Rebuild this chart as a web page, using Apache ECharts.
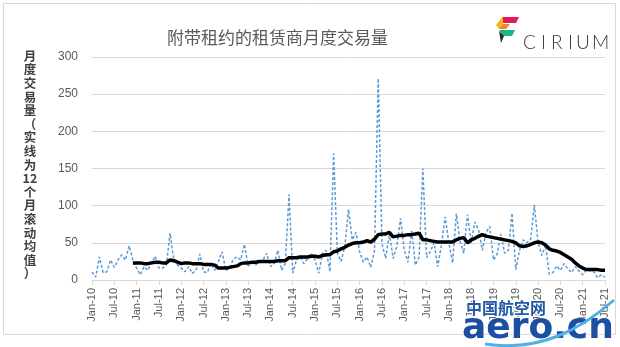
<!DOCTYPE html>
<html>
<head>
<meta charset="utf-8">
<script src="https://cdn.jsdelivr.net/npm/echarts@6/dist/echarts.min.js"></script>
<style>html,body{margin:0;padding:0;background:#fff;}#c{width:620px;height:347px;}</style>
</head>
<body>
<div id="c"></div>
<script>
// ---- data ----
const MONTHS = ['Jan','Feb','Mar','Apr','May','Jun','Jul','Aug','Sep','Oct','Nov','Dec'];
const YEARS = ['10','11','12','13','14','15','16','17','18','19','20','21'];
const N_MONTHS = 139; // Jan-10 .. Jul-21
const categories = [];
for (let k = 0; k < N_MONTHS; k++) categories.push(MONTHS[k % 12] + '-' + YEARS[Math.floor(k / 12)]);

// monthly transactions (dashed)
const monthly = [
  11,4,31,10,11,27,17,27,34,27,
  46,27,16,7,18,13,23,32,16,16,
  20,63,27,20,16,11,18,9,13,35,
  11,10,22,13,25,38,13,16,28,31,
  27,48,19,23,20,25,27,36,18,22,
  40,13,22,115,9,27,31,22,29,36,
  27,9,36,40,11,170,36,25,45,95,
  54,64,38,24,31,17,40,271,49,29,
  63,29,45,83,40,24,67,20,31,150,
  30,38,50,18,47,85,50,23,89,52,
  36,88,50,78,67,40,64,72,27,35,
  62,36,40,90,14,40,54,50,55,101,
  50,33,47,8,10,19,13,22,15,10,
  18,12,7,14,12,11,3,7,4
];
// 12-month rolling average (solid), starts Dec-10
const rolling = [
  null,null,null,null,null,null,null,null,null,null,null,
  23,23,23,22,22,23,24,24,23,23,
  27,26,24,22,23,23,22,22,22,21,
  21,21,20,16,16,16,17,18,19,22,
  23,23,24,24,25,25,25,25,25,26,
  26,26,30,30,30,31,31,31,32,32,
  31,33,34,34,38,39,42,44,47,49,
  50,50,51,53,51,55,61,62,62,64,
  58,59,60,60,61,61,62,63,54,54,
  53,52,51,51,51,51,51,54,56,57,
  50,54,56,59,61,59,58,57,56,55,
  54,53,52,50,46,45,46,48,50,51,
  50,47,42,40,39,37,34,31,28,23,
  19,16,14,14,14,14,13,13
];
const Y_TICKS = [0, 50, 100, 150, 200, 250, 300];
const TITLE = '附带租约的租赁商月度交易量';
const Y_TITLE_LINES = ['月','度','交','易','量','（','实','线','为','12','个','月','滚','动','均','值','）'];
const LOGO_LETTERS = ['C','I','R','I','U','M'];

const chart = echarts.init(document.getElementById('c'), null, {renderer: 'canvas'});
const txt = '#595959';

const graphics = [
  {type: 'rect', shape: {x: 3.5, y: 3.5, width: 612, height: 331}, style: {fill: 'none', stroke: '#d9d9d9', lineWidth: 1}, silent: true, z: 0}
];
Y_TITLE_LINES.forEach(function (ch, k) {
  graphics.push({type: 'text', x: 30, y: 56 + k * 13.6,
    style: {text: ch, align: 'center', verticalAlign: 'middle', fontSize: 12.5, fontWeight: 'bold', fill: '#404040', fontFamily: 'Noto Sans CJK SC'}});
});
// logo icon
graphics.push(
  {type: 'polygon', shape: {points: [[503,17],[519,17],[516,23],[503,23]]}, style: {fill: '#e5195a'}},
  {type: 'polygon', shape: {points: [[496,25],[503,16],[503,24],[499,29]]}, style: {fill: '#f7b417'}},
  {type: 'polygon', shape: {points: [[499,29],[503,24],[510,24],[506,29]]}, style: {fill: '#f08a1c'}},
  {type: 'polygon', shape: {points: [[499,30],[515,30],[512,36],[503,36]]}, style: {fill: '#1fb28c'}},
  {type: 'polygon', shape: {points: [[499,31],[504,36],[501,43]]}, style: {fill: '#2a2a2a'}}
);
const LOGO_X = [523, 541, 551, 568, 576, 592];
LOGO_LETTERS.forEach(function (ch, k) {
  graphics.push({type: 'text', x: LOGO_X[k], y: 33, style: {text: ch, fontSize: 19, fill: '#3a3a3a', fontFamily: 'Lato', fontWeight: 300}});
});
// watermark
graphics.push(
  {type: 'text', x: 466, y: 300, z: 50, style: {text: '中国航空网', fontSize: 16, fontWeight: 'bold', fill: '#2158a8', fontFamily: 'Noto Sans CJK SC', stroke: '#fff', lineWidth: 2}},
  {type: 'text', x: 462, y: 311, z: 50, style: {text: 'aero.cn', fontSize: 36, fontWeight: 'bold', fill: '#1c4fa0', fontFamily: 'DejaVu Sans', stroke: '#fff', lineWidth: 1}},
  {type: 'bezierCurve', z: 51, shape: {x1: 485, y1: 344, cpx1: 540, cpy1: 352, cpx2: 580, cpy2: 330, x2: 614, y2: 300}, style: {stroke: '#4fb0e6', lineWidth: 3, fill: 'none'}}
);

chart.setOption({
  animation: false,
  backgroundColor: '#fff',
  title: {
    text: TITLE, left: 162, top: 24,
    textStyle: {fontSize: 17, color: txt, fontWeight: 'normal', fontFamily: 'Noto Sans CJK SC'}
  },
  grid: {left: 92, right: 15, top: 57, bottom: 67, containLabel: false},
  xAxis: {
    type: 'category', data: categories, boundaryGap: false,
    axisLine: {show: true, lineStyle: {color: '#d9d9d9', width: 1}},
    axisTick: {show: true, interval: 5, length: 5, lineStyle: {color: '#d9d9d9'}},
    axisLabel: {interval: 5, rotate: 90, margin: 8, color: txt, fontSize: 11, fontFamily: 'Liberation Sans'},
    splitLine: {show: false}
  },
  yAxis: {
    type: 'value', min: Y_TICKS[0], max: Y_TICKS[Y_TICKS.length - 1], interval: 50,
    axisLine: {show: false}, axisTick: {show: false},
    axisLabel: {color: txt, fontSize: 12, margin: 14, fontFamily: 'Liberation Sans'},
    splitLine: {show: true, lineStyle: {color: '#d9d9d9', width: 1}}
  },
  series: [
    {type: 'line', data: monthly, symbol: 'none', smooth: false, z: 2,
     lineStyle: {color: '#5B9BD5', width: 1.5, type: [3, 2]}},
    {type: 'line', data: rolling, symbol: 'none', smooth: false, z: 3, connectNulls: false,
     lineStyle: {color: '#000', width: 3.5}}
  ],
  graphic: graphics
});
</script>
</body>
</html>
